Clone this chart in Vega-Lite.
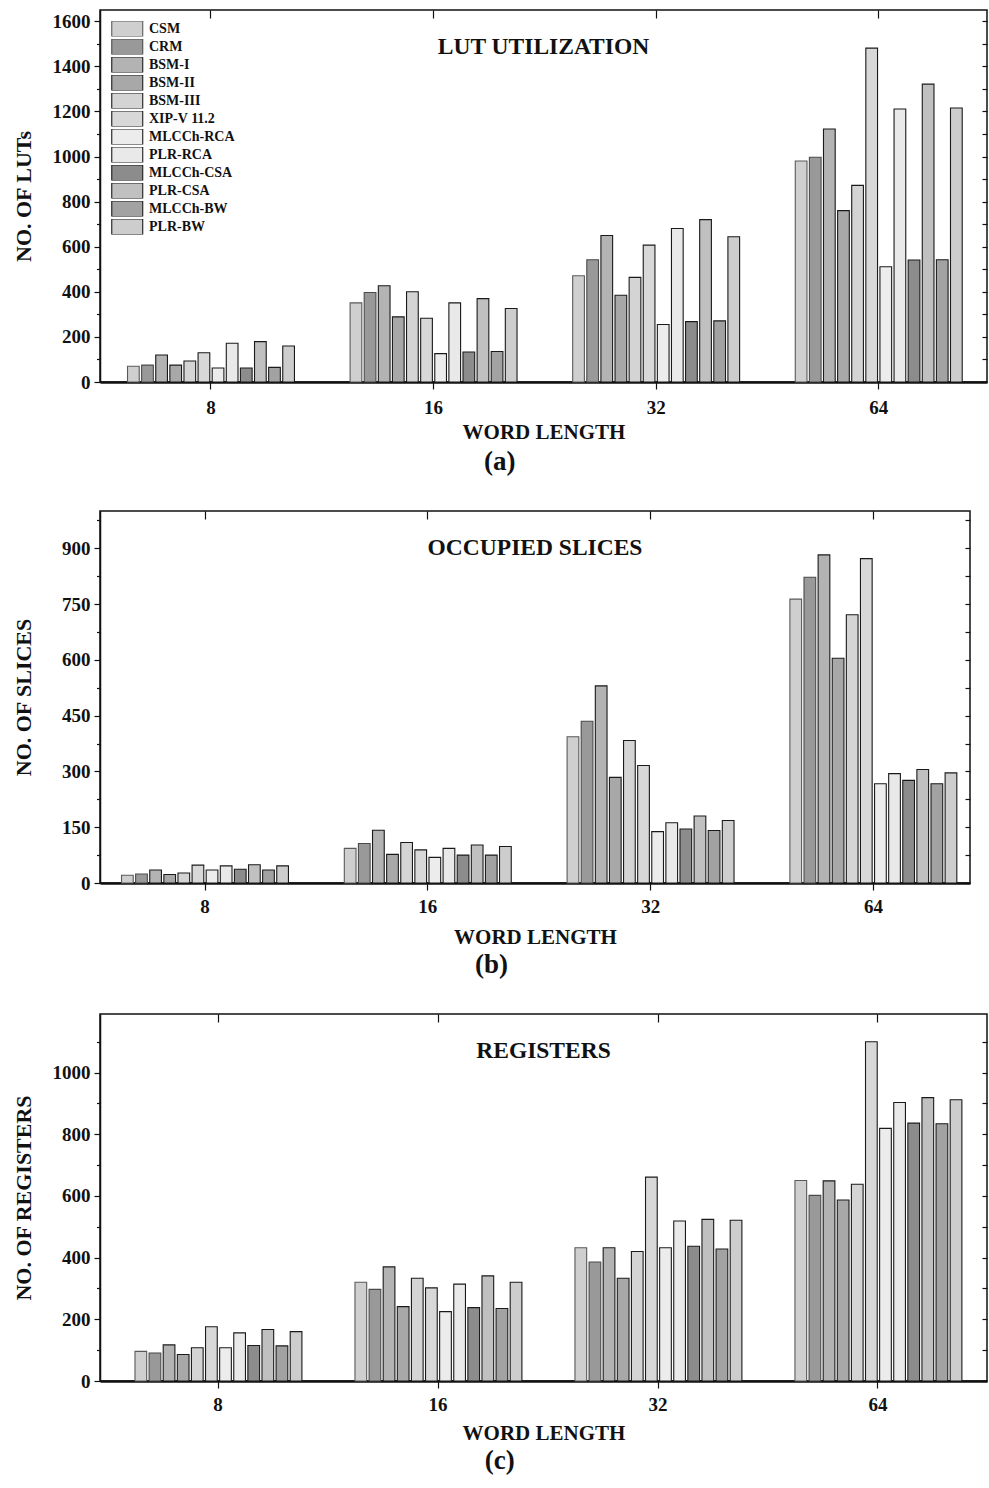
{
  "$schema": "https://vega.github.io/schema/vega-lite/v6.json",
  "padding": {"left": 11, "top": 8, "right": 2, "bottom": 2},
  "columns": 1,
  "align": "none",
  "spacing": 34,
  "resolve": {"scale": {"color": "independent", "stroke": "independent"}},
  "datasets": {
    "lut": [
      {"w":"8","s":"CSM","v":70},{"w":"8","s":"CRM","v":75},{"w":"8","s":"BSM-I","v":120},{"w":"8","s":"BSM-II","v":75},{"w":"8","s":"BSM-III","v":93},{"w":"8","s":"XIP-V 11.2","v":130},{"w":"8","s":"MLCCh-RCA","v":62},{"w":"8","s":"PLR-RCA","v":172},{"w":"8","s":"MLCCh-CSA","v":62},{"w":"8","s":"PLR-CSA","v":179},{"w":"8","s":"MLCCh-BW","v":65},{"w":"8","s":"PLR-BW","v":160},
      {"w":"16","s":"CSM","v":351},{"w":"16","s":"CRM","v":397},{"w":"16","s":"BSM-I","v":427},{"w":"16","s":"BSM-II","v":289},{"w":"16","s":"BSM-III","v":400},{"w":"16","s":"XIP-V 11.2","v":283},{"w":"16","s":"MLCCh-RCA","v":126},{"w":"16","s":"PLR-RCA","v":351},{"w":"16","s":"MLCCh-CSA","v":133},{"w":"16","s":"PLR-CSA","v":370},{"w":"16","s":"MLCCh-BW","v":135},{"w":"16","s":"PLR-BW","v":326},
      {"w":"32","s":"CSM","v":471},{"w":"32","s":"CRM","v":542},{"w":"32","s":"BSM-I","v":650},{"w":"32","s":"BSM-II","v":385},{"w":"32","s":"BSM-III","v":464},{"w":"32","s":"XIP-V 11.2","v":607},{"w":"32","s":"MLCCh-RCA","v":255},{"w":"32","s":"PLR-RCA","v":681},{"w":"32","s":"MLCCh-CSA","v":268},{"w":"32","s":"PLR-CSA","v":720},{"w":"32","s":"MLCCh-BW","v":271},{"w":"32","s":"PLR-BW","v":644},
      {"w":"64","s":"CSM","v":980},{"w":"64","s":"CRM","v":997},{"w":"64","s":"BSM-I","v":1122},{"w":"64","s":"BSM-II","v":760},{"w":"64","s":"BSM-III","v":872},{"w":"64","s":"XIP-V 11.2","v":1481},{"w":"64","s":"MLCCh-RCA","v":511},{"w":"64","s":"PLR-RCA","v":1211},{"w":"64","s":"MLCCh-CSA","v":541},{"w":"64","s":"PLR-CSA","v":1321},{"w":"64","s":"MLCCh-BW","v":542},{"w":"64","s":"PLR-BW","v":1215}
    ],
    "slices": [
      {"w":"8","s":"CSM","v":21},{"w":"8","s":"CRM","v":24},{"w":"8","s":"BSM-I","v":35},{"w":"8","s":"BSM-II","v":23},{"w":"8","s":"BSM-III","v":27},{"w":"8","s":"XIP-V 11.2","v":48},{"w":"8","s":"MLCCh-RCA","v":35},{"w":"8","s":"PLR-RCA","v":46},{"w":"8","s":"MLCCh-CSA","v":37},{"w":"8","s":"PLR-CSA","v":49},{"w":"8","s":"MLCCh-BW","v":35},{"w":"8","s":"PLR-BW","v":46},
      {"w":"16","s":"CSM","v":93},{"w":"16","s":"CRM","v":106},{"w":"16","s":"BSM-I","v":142},{"w":"16","s":"BSM-II","v":77},{"w":"16","s":"BSM-III","v":109},{"w":"16","s":"XIP-V 11.2","v":89},{"w":"16","s":"MLCCh-RCA","v":69},{"w":"16","s":"PLR-RCA","v":93},{"w":"16","s":"MLCCh-CSA","v":75},{"w":"16","s":"PLR-CSA","v":102},{"w":"16","s":"MLCCh-BW","v":75},{"w":"16","s":"PLR-BW","v":98},
      {"w":"32","s":"CSM","v":393},{"w":"32","s":"CRM","v":435},{"w":"32","s":"BSM-I","v":530},{"w":"32","s":"BSM-II","v":284},{"w":"32","s":"BSM-III","v":383},{"w":"32","s":"XIP-V 11.2","v":316},{"w":"32","s":"MLCCh-RCA","v":138},{"w":"32","s":"PLR-RCA","v":162},{"w":"32","s":"MLCCh-CSA","v":145},{"w":"32","s":"PLR-CSA","v":180},{"w":"32","s":"MLCCh-BW","v":141},{"w":"32","s":"PLR-BW","v":168},
      {"w":"64","s":"CSM","v":763},{"w":"64","s":"CRM","v":822},{"w":"64","s":"BSM-I","v":882},{"w":"64","s":"BSM-II","v":604},{"w":"64","s":"BSM-III","v":721},{"w":"64","s":"XIP-V 11.2","v":872},{"w":"64","s":"MLCCh-RCA","v":267},{"w":"64","s":"PLR-RCA","v":294},{"w":"64","s":"MLCCh-CSA","v":276},{"w":"64","s":"PLR-CSA","v":305},{"w":"64","s":"MLCCh-BW","v":267},{"w":"64","s":"PLR-BW","v":296}
    ],
    "regs": [
      {"w":"8","s":"CSM","v":96},{"w":"8","s":"CRM","v":91},{"w":"8","s":"BSM-I","v":117},{"w":"8","s":"BSM-II","v":86},{"w":"8","s":"BSM-III","v":108},{"w":"8","s":"XIP-V 11.2","v":176},{"w":"8","s":"MLCCh-RCA","v":108},{"w":"8","s":"PLR-RCA","v":156},{"w":"8","s":"MLCCh-CSA","v":115},{"w":"8","s":"PLR-CSA","v":167},{"w":"8","s":"MLCCh-BW","v":114},{"w":"8","s":"PLR-BW","v":160},
      {"w":"16","s":"CSM","v":320},{"w":"16","s":"CRM","v":297},{"w":"16","s":"BSM-I","v":370},{"w":"16","s":"BSM-II","v":241},{"w":"16","s":"BSM-III","v":333},{"w":"16","s":"XIP-V 11.2","v":302},{"w":"16","s":"MLCCh-RCA","v":225},{"w":"16","s":"PLR-RCA","v":314},{"w":"16","s":"MLCCh-CSA","v":238},{"w":"16","s":"PLR-CSA","v":341},{"w":"16","s":"MLCCh-BW","v":235},{"w":"16","s":"PLR-BW","v":320},
      {"w":"32","s":"CSM","v":432},{"w":"32","s":"CRM","v":386},{"w":"32","s":"BSM-I","v":432},{"w":"32","s":"BSM-II","v":333},{"w":"32","s":"BSM-III","v":420},{"w":"32","s":"XIP-V 11.2","v":661},{"w":"32","s":"MLCCh-RCA","v":432},{"w":"32","s":"PLR-RCA","v":519},{"w":"32","s":"MLCCh-CSA","v":437},{"w":"32","s":"PLR-CSA","v":524},{"w":"32","s":"MLCCh-BW","v":428},{"w":"32","s":"PLR-BW","v":521},
      {"w":"64","s":"CSM","v":650},{"w":"64","s":"CRM","v":602},{"w":"64","s":"BSM-I","v":649},{"w":"64","s":"BSM-II","v":587},{"w":"64","s":"BSM-III","v":638},{"w":"64","s":"XIP-V 11.2","v":1100},{"w":"64","s":"MLCCh-RCA","v":819},{"w":"64","s":"PLR-RCA","v":903},{"w":"64","s":"MLCCh-CSA","v":836},{"w":"64","s":"PLR-CSA","v":919},{"w":"64","s":"MLCCh-BW","v":834},{"w":"64","s":"PLR-BW","v":912}
    ]
  },
  "concat": [
    {
      "title": {"text": "(a)", "orient": "bottom", "anchor": "middle", "fontSize": 27, "offset": 6},
      "resolve": {"scale": {"color": "independent", "stroke": "independent"}},
      "vconcat": [
        {
          "title": {"text": "LUT UTILIZATION", "orient": "top", "anchor": "middle", "frame": "group", "offset": -49, "fontSize": 23.5},
          "width": 887, "height": 372,
          "data": {"name": "lut"},
          "resolve": {"axis": {"x": "independent", "y": "independent"}},
          "layer": [
            {
              "mark": {"type": "bar", "strokeWidth": 1.1},
              "encoding": {
                "x": {"field": "w", "type": "ordinal", "sort": ["8","16","32","64"],
                      "scale": {"paddingInner": 0.25, "paddingOuter": 0.1175, "align": 0.526},
                      "axis": {"orient": "bottom", "title": "WORD LENGTH", "labelAngle": 0, "tickSize": 7, "labelPadding": 9, "labelFontSize": 19, "titleFontSize": 21, "titlePadding": 4, "domainWidth": 2.5}},
                "xOffset": {"field": "s", "type": "nominal", "sort": ["CSM","CRM","BSM-I","BSM-II","BSM-III","XIP-V 11.2","MLCCh-RCA","PLR-RCA","MLCCh-CSA","PLR-CSA","MLCCh-BW","PLR-BW"], "scale": {"paddingInner": 0.17}},
                "y": {"field": "v", "type": "quantitative", "scale": {"domain": [0, 1650], "nice": false},
                      "axis": {"orient": "left", "values": [0,200,400,600,800,1000,1200,1400,1600], "format": "d", "tickSize": 6, "labelPadding": 4, "labelFontSize": 19, "title": "NO. OF LUTs", "titleFontSize": 22, "titlePadding": 17, "domainWidth": 1.5}},
                "stroke": {"field": "s", "type": "nominal", "scale": {"domain": ["CSM","CRM","BSM-I","BSM-II","BSM-III","XIP-V 11.2","MLCCh-RCA","PLR-RCA","MLCCh-CSA","PLR-CSA","MLCCh-BW","PLR-BW"], "range": ["#5a5a5a","#4a4a4a","#1a1a1a","#1a1a1a","#1a1a1a","#1a1a1a","#1a1a1a","#1a1a1a","#1a1a1a","#1a1a1a","#1a1a1a","#1a1a1a"]}, "legend": null},
                "color": {"field": "s", "type": "nominal", "sort": ["CSM","CRM","BSM-I","BSM-II","BSM-III","XIP-V 11.2","MLCCh-RCA","PLR-RCA","MLCCh-CSA","PLR-CSA","MLCCh-BW","PLR-BW"],
                          "scale": {"domain": ["CSM","CRM","BSM-I","BSM-II","BSM-III","XIP-V 11.2","MLCCh-RCA","PLR-RCA","MLCCh-CSA","PLR-CSA","MLCCh-BW","PLR-BW"],
                                    "range": ["#cfcfcf","#999999","#b3b3b3","#a8a8a8","#d4d4d4","#d8d8d8","#ececec","#e9e9e9","#8c8c8c","#c0c0c0","#a2a2a2","#cdcdcd"]},
                          "legend": {"title": null, "orient": "top-left", "offset": 11, "padding": 0, "symbolType": "M-1,-1H3V1H-1Z", "symbolSize": 240, "clipHeight": 15.5, "symbolStrokeColor": "#222", "symbolStrokeWidth": 1.1, "symbolOpacity": 1, "labelFont": "Liberation Serif", "labelFontWeight": "bold", "labelFontSize": 14, "labelColor": "#111", "labelOffset": 21, "rowPadding": 2}}
              }
            },
            {
              "mark": {"type": "tick", "opacity": 0},
              "encoding": {
                "y": {"field": "v", "type": "quantitative", "axis": {"orient": "left", "values": [100,300,500,700,900,1100,1300,1500], "labels": false, "tickSize": 3.5, "domain": false, "title": null}}
              }
            },
            {
              "mark": {"type": "tick", "opacity": 0},
              "encoding": {
                "x": {"field": "w", "type": "ordinal", "sort": ["8","16","32","64"], "axis": {"orient": "top", "labels": false, "tickSize": -8, "domain": false, "title": null}},
                "y": {"field": "v", "type": "quantitative", "axis": {"orient": "right", "values": [0,100,200,300,400,500,600,700,800,900,1000,1100,1200,1300,1400,1500,1600], "labels": false, "tickSize": -5, "domain": false, "title": null}}
              }
            }
          ]
        }
      ]
    },
    {
      "title": {"text": "(b)", "orient": "bottom", "anchor": "middle", "fontSize": 27, "offset": 4},
      "resolve": {"scale": {"color": "independent", "stroke": "independent"}},
      "vconcat": [
        {
          "title": {"text": "OCCUPIED SLICES", "orient": "top", "anchor": "middle", "frame": "group", "offset": -49, "fontSize": 23.5},
          "width": 870, "height": 372,
          "data": {"name": "slices"},
          "resolve": {"axis": {"x": "independent", "y": "independent"}},
          "layer": [
            {
              "mark": {"type": "bar", "strokeWidth": 1.1},
              "encoding": {
                "x": {"field": "w", "type": "ordinal", "sort": ["8","16","32","64"],
                      "scale": {"paddingInner": 0.25, "paddingOuter": 0.0775, "align": 0.623},
                      "axis": {"orient": "bottom", "title": "WORD LENGTH", "labelAngle": 0, "tickSize": 7, "labelPadding": 7, "labelFontSize": 19, "titleFontSize": 21, "titlePadding": 10, "domainWidth": 2.5}},
                "xOffset": {"field": "s", "type": "nominal", "sort": ["CSM","CRM","BSM-I","BSM-II","BSM-III","XIP-V 11.2","MLCCh-RCA","PLR-RCA","MLCCh-CSA","PLR-CSA","MLCCh-BW","PLR-BW"], "scale": {"paddingInner": 0.17}},
                "y": {"field": "v", "type": "quantitative", "scale": {"domain": [0, 1000], "nice": false},
                      "axis": {"orient": "left", "values": [0,150,300,450,600,750,900], "format": "d", "tickSize": 6, "labelPadding": 4, "labelFontSize": 19, "title": "NO. OF SLICES", "titleFontSize": 22, "titlePadding": 26, "domainWidth": 1.5}},
                "stroke": {"field": "s", "type": "nominal", "scale": {"domain": ["CSM","CRM","BSM-I","BSM-II","BSM-III","XIP-V 11.2","MLCCh-RCA","PLR-RCA","MLCCh-CSA","PLR-CSA","MLCCh-BW","PLR-BW"], "range": ["#5a5a5a","#4a4a4a","#1a1a1a","#1a1a1a","#1a1a1a","#1a1a1a","#1a1a1a","#1a1a1a","#1a1a1a","#1a1a1a","#1a1a1a","#1a1a1a"]}, "legend": null},
                "color": {"field": "s", "type": "nominal", "sort": ["CSM","CRM","BSM-I","BSM-II","BSM-III","XIP-V 11.2","MLCCh-RCA","PLR-RCA","MLCCh-CSA","PLR-CSA","MLCCh-BW","PLR-BW"],
                          "scale": {"domain": ["CSM","CRM","BSM-I","BSM-II","BSM-III","XIP-V 11.2","MLCCh-RCA","PLR-RCA","MLCCh-CSA","PLR-CSA","MLCCh-BW","PLR-BW"],
                                    "range": ["#cfcfcf","#999999","#b3b3b3","#a8a8a8","#d4d4d4","#d8d8d8","#ececec","#e9e9e9","#8c8c8c","#c0c0c0","#a2a2a2","#cdcdcd"]},
                          "legend": null}
              }
            },
            {
              "mark": {"type": "tick", "opacity": 0},
              "encoding": {
                "y": {"field": "v", "type": "quantitative", "axis": {"orient": "left", "values": [75,225,375,525,675,825,975], "labels": false, "tickSize": 3.5, "domain": false, "title": null}}
              }
            },
            {
              "mark": {"type": "tick", "opacity": 0},
              "encoding": {
                "x": {"field": "w", "type": "ordinal", "sort": ["8","16","32","64"], "axis": {"orient": "top", "labels": false, "tickSize": -8, "domain": false, "title": null}},
                "y": {"field": "v", "type": "quantitative", "axis": {"orient": "right", "values": [0,75,150,225,300,375,450,525,600,675,750,825,900,975], "labels": false, "tickSize": -5, "domain": false, "title": null}}
              }
            }
          ]
        }
      ]
    },
    {
      "title": {"text": "(c)", "orient": "bottom", "anchor": "middle", "fontSize": 27, "offset": 4},
      "resolve": {"scale": {"color": "independent", "stroke": "independent"}},
      "vconcat": [
        {
          "title": {"text": "REGISTERS", "orient": "top", "anchor": "middle", "frame": "group", "offset": -49, "fontSize": 23.5},
          "width": 887, "height": 367,
          "data": {"name": "regs"},
          "resolve": {"axis": {"x": "independent", "y": "independent"}},
          "layer": [
            {
              "mark": {"type": "bar", "strokeWidth": 1.1},
              "encoding": {
                "x": {"field": "w", "type": "ordinal", "sort": ["8","16","32","64"],
                      "scale": {"paddingInner": 0.245, "paddingOuter": 0.1385, "align": 0.574},
                      "axis": {"orient": "bottom", "title": "WORD LENGTH", "labelAngle": 0, "tickSize": 7, "labelPadding": 7, "labelFontSize": 19, "titleFontSize": 21, "titlePadding": 8, "domainWidth": 2.5}},
                "xOffset": {"field": "s", "type": "nominal", "sort": ["CSM","CRM","BSM-I","BSM-II","BSM-III","XIP-V 11.2","MLCCh-RCA","PLR-RCA","MLCCh-CSA","PLR-CSA","MLCCh-BW","PLR-BW"], "scale": {"paddingInner": 0.17}},
                "y": {"field": "v", "type": "quantitative", "scale": {"domain": [0, 1190], "nice": false},
                      "axis": {"orient": "left", "values": [0,200,400,600,800,1000], "format": "d", "tickSize": 6, "labelPadding": 4, "labelFontSize": 19, "title": "NO. OF REGISTERS", "titleFontSize": 22, "titlePadding": 17, "domainWidth": 1.5}},
                "stroke": {"field": "s", "type": "nominal", "scale": {"domain": ["CSM","CRM","BSM-I","BSM-II","BSM-III","XIP-V 11.2","MLCCh-RCA","PLR-RCA","MLCCh-CSA","PLR-CSA","MLCCh-BW","PLR-BW"], "range": ["#5a5a5a","#4a4a4a","#1a1a1a","#1a1a1a","#1a1a1a","#1a1a1a","#1a1a1a","#1a1a1a","#1a1a1a","#1a1a1a","#1a1a1a","#1a1a1a"]}, "legend": null},
                "color": {"field": "s", "type": "nominal", "sort": ["CSM","CRM","BSM-I","BSM-II","BSM-III","XIP-V 11.2","MLCCh-RCA","PLR-RCA","MLCCh-CSA","PLR-CSA","MLCCh-BW","PLR-BW"],
                          "scale": {"domain": ["CSM","CRM","BSM-I","BSM-II","BSM-III","XIP-V 11.2","MLCCh-RCA","PLR-RCA","MLCCh-CSA","PLR-CSA","MLCCh-BW","PLR-BW"],
                                    "range": ["#cfcfcf","#999999","#b3b3b3","#a8a8a8","#d4d4d4","#d8d8d8","#ececec","#e9e9e9","#8c8c8c","#c0c0c0","#a2a2a2","#cdcdcd"]},
                          "legend": null}
              }
            },
            {
              "mark": {"type": "tick", "opacity": 0},
              "encoding": {
                "y": {"field": "v", "type": "quantitative", "axis": {"orient": "left", "values": [100,300,500,700,900,1100], "labels": false, "tickSize": 3.5, "domain": false, "title": null}}
              }
            },
            {
              "mark": {"type": "tick", "opacity": 0},
              "encoding": {
                "x": {"field": "w", "type": "ordinal", "sort": ["8","16","32","64"], "axis": {"orient": "top", "labels": false, "tickSize": -8, "domain": false, "title": null}},
                "y": {"field": "v", "type": "quantitative", "axis": {"orient": "right", "values": [0,100,200,300,400,500,600,700,800,900,1000,1100], "labels": false, "tickSize": -5, "domain": false, "title": null}}
              }
            }
          ]
        }
      ]
    }
  ],
  "config": {
    "font": "Liberation Serif",
    "view": {"stroke": "#111", "strokeWidth": 1.5},
    "axis": {"labelFont": "Liberation Serif", "labelFontWeight": "bold", "labelColor": "#111", "titleFont": "Liberation Serif", "titleFontWeight": "bold", "titleColor": "#111", "domainColor": "#111", "tickColor": "#111", "tickWidth": 1.2, "grid": false},
    "title": {"font": "Liberation Serif", "fontWeight": "bold", "color": "#111"}
  }
}
